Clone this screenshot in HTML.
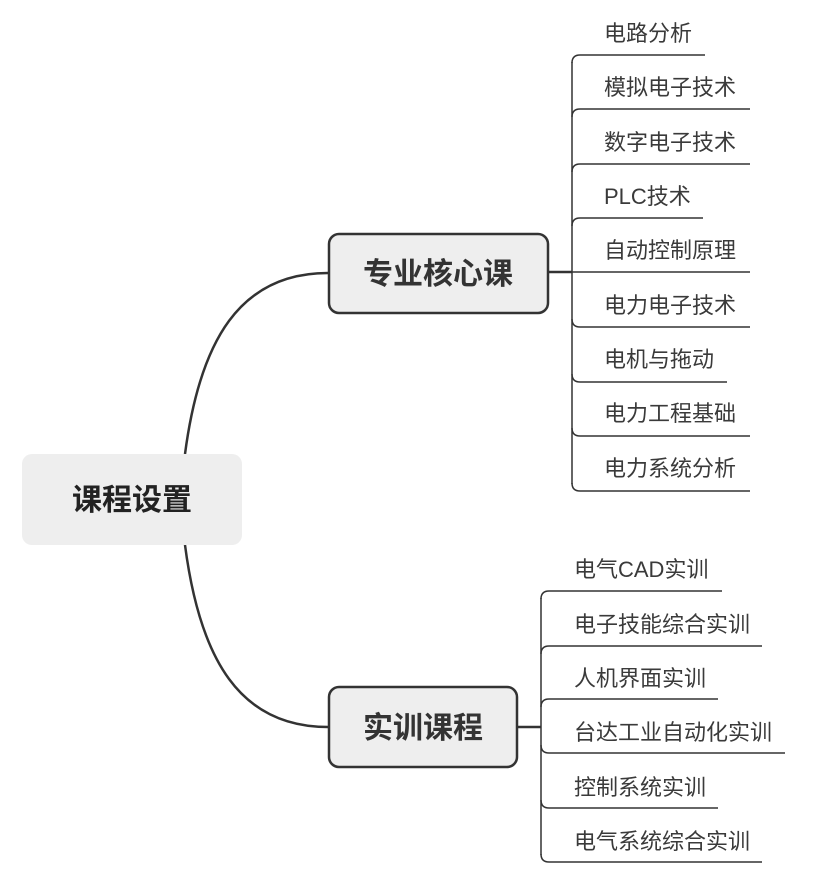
<!DOCTYPE html>
<html><head><meta charset="utf-8"><style>
html,body{margin:0;padding:0;background:#fff;}
svg{display:block;}
text{font-family:"Liberation Sans","Noto Sans CJK SC",sans-serif;}
</style></head><body>
<svg width="830" height="878" viewBox="0 0 830 878" xmlns="http://www.w3.org/2000/svg">
<g fill="none" stroke="#333" stroke-width="2.5">
<path d="M185,454 C200,340 240,273 328,273"/>
<path d="M185,545 C200,660 240,727 328,727"/>
<line x1="549" y1="272" x2="572" y2="272"/>
<line x1="517" y1="727" x2="541" y2="727"/>
</g>
<g fill="none" stroke="#333" stroke-width="1.5">
<line x1="572" y1="62" x2="572" y2="484"/>
<path d="M572,63 Q572,55 580,55 L705,55"/>
<path d="M572,117 Q572,109 580,109 L750,109"/>
<path d="M572,172 Q572,164 580,164 L750,164"/>
<path d="M572,226 Q572,218 580,218 L703,218"/>
<line x1="572" y1="272" x2="750" y2="272"/>
<path d="M572,319 Q572,327 580,327 L750,327"/>
<path d="M572,374 Q572,382 580,382 L727,382"/>
<path d="M572,428 Q572,436 580,436 L750,436"/>
<path d="M572,483 Q572,491 580,491 L750,491"/>
<line x1="541" y1="598" x2="541" y2="855"/>
<path d="M541,599 Q541,591 549,591 L722,591"/>
<path d="M541,654 Q541,646 549,646 L762,646"/>
<path d="M541,707 Q541,699 549,699 L718,699"/>
<path d="M541,745 Q541,753 549,753 L785,753"/>
<path d="M541,800 Q541,808 549,808 L718,808"/>
<path d="M541,854 Q541,862 549,862 L762,862"/>
</g>
<rect x="22" y="454" width="220" height="91" rx="10" fill="#eeeeee"/>
<text x="132" y="510" font-size="30" font-weight="bold" fill="#222" text-anchor="middle">课程设置</text>
<rect x="329" y="234" width="219" height="79" rx="10" fill="#eeeeee" stroke="#333" stroke-width="2.5"/>
<text x="438" y="284" font-size="30" font-weight="bold" fill="#333" text-anchor="middle">专业核心课</text>
<rect x="329" y="687" width="188" height="80" rx="10" fill="#eeeeee" stroke="#333" stroke-width="2.5"/>
<text x="423" y="738" font-size="30" font-weight="bold" fill="#333" text-anchor="middle">实训课程</text>
<g font-size="22" fill="#3a3a3a">
<text x="604" y="41">电路分析</text>
<text x="604" y="95">模拟电子技术</text>
<text x="604" y="150">数字电子技术</text>
<text x="604" y="204">PLC技术</text>
<text x="604" y="258">自动控制原理</text>
<text x="604" y="313">电力电子技术</text>
<text x="604" y="367">电机与拖动</text>
<text x="604" y="421">电力工程基础</text>
<text x="604" y="476">电力系统分析</text>
<text x="574" y="577">电气CAD实训</text>
<text x="574" y="632">电子技能综合实训</text>
<text x="574" y="686">人机界面实训</text>
<text x="574" y="740">台达工业自动化实训</text>
<text x="574" y="795">控制系统实训</text>
<text x="574" y="849">电气系统综合实训</text>
</g>
</svg>
</body></html>
